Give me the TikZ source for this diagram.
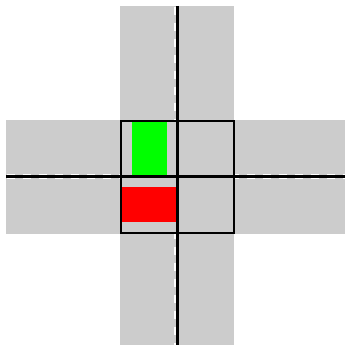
\documentclass[tikz,border=0pt]{standalone}
\begin{document}
\begin{tikzpicture}[x=1pt,y=-1pt,
  road/.style={fill={rgb,255:red,204;green,204;blue,204}},
  markw/.style={draw=white,dash pattern=on 8.3pt off 7.7pt},
  markb/.style={draw=black,line width=2.5pt},
  frame/.style={draw=black,line width=2.2pt}]
\useasboundingbox (0,0) rectangle (345,345);
\fill[white] (0,0) rectangle (345,345);
% roads
\fill[road] (120,6) rectangle (234,345);
\fill[road] (6,120) rectangle (345,234);
% lane markings (white)
\draw[markw,line width=3.5pt] (175.6,6.7) -- (175.6,345);
\draw[markw,line width=5pt] (6.7,176.3) -- (345,176.3);
% intersection area
\fill[road] (120.8,120.8) rectangle (233.8,233.2);
% vehicles
\fill[green] (131.7,120) rectangle (167,175);
\fill[red] (121.5,186.7) rectangle (176.3,222);
% lane markings (black)
\draw[markb] (177.4,6) -- (177.4,345);
\draw[markb] (6,176.5) -- (345,176.5);
% intersection box
\draw[frame] (120.8,120.8) rectangle (233.8,233.2);
\end{tikzpicture}
\end{document}
